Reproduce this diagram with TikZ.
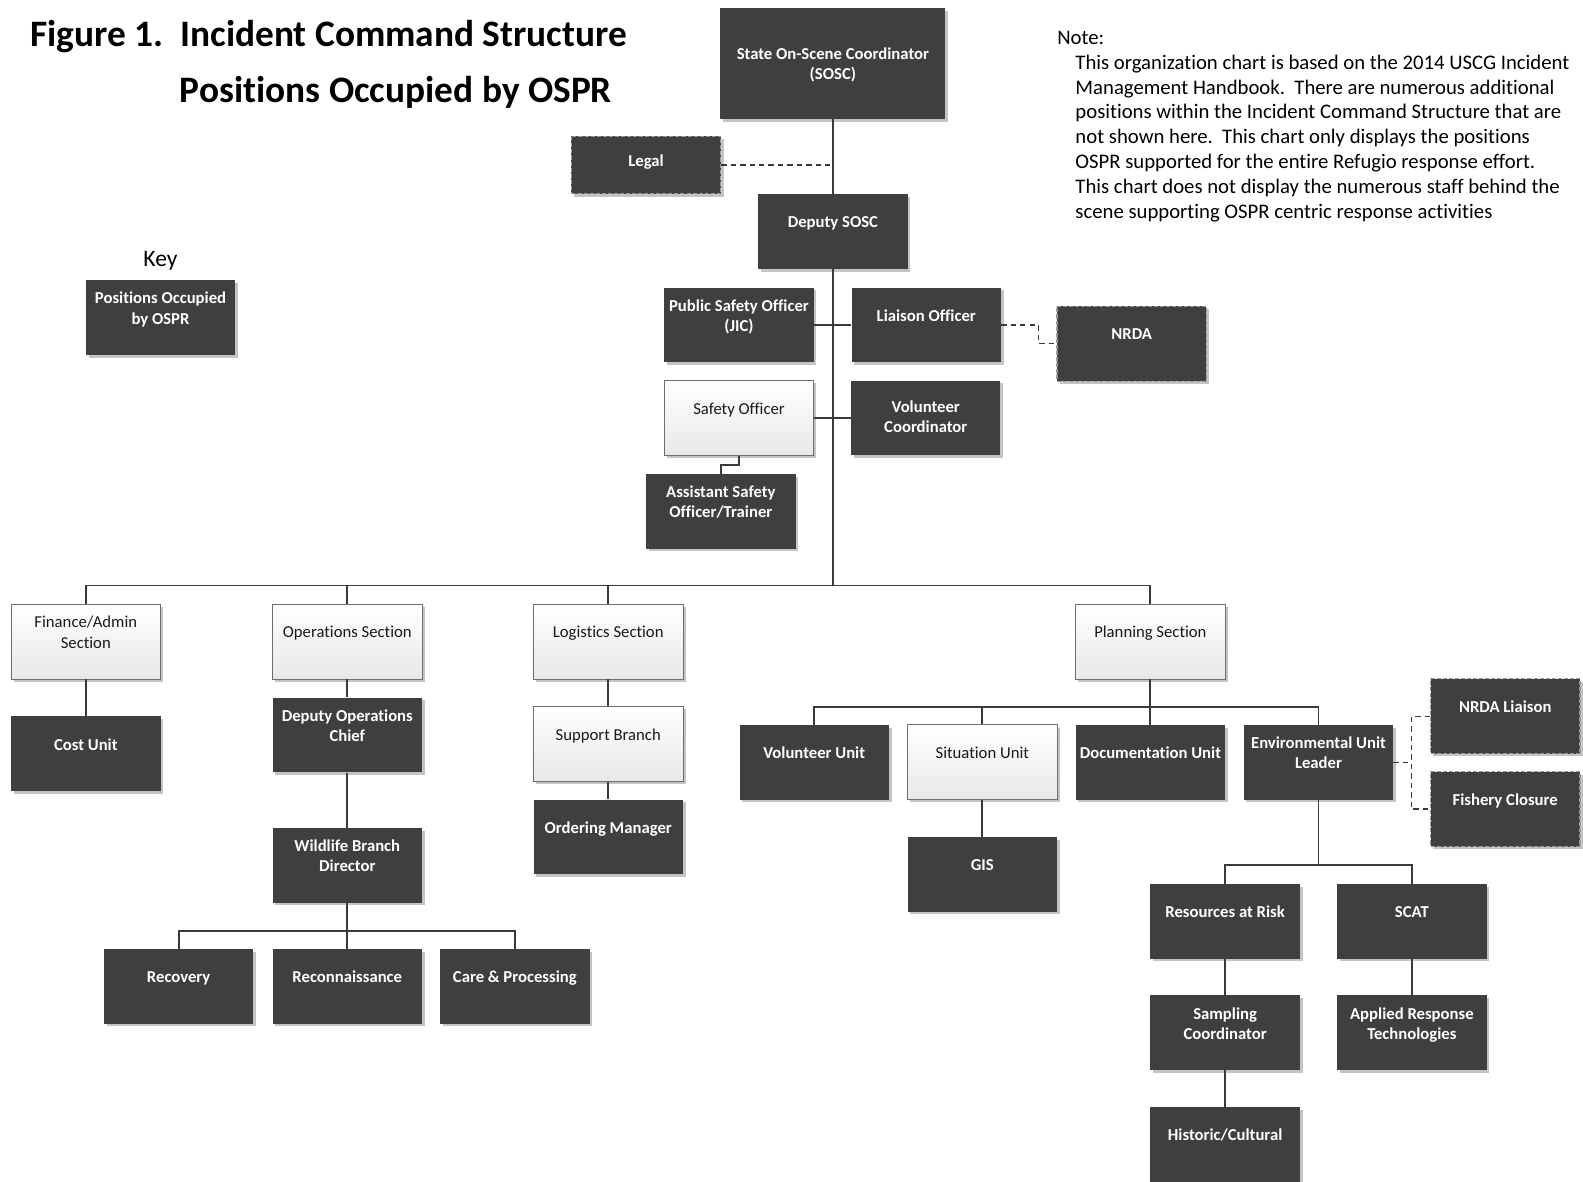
\documentclass[tikz,border=0pt]{standalone}
\usepackage{fontspec}
\setmainfont{Carlito}[Ligatures=NoCommon]
\usepackage{xcolor}
\usepackage{tikz}
\usetikzlibrary{shadows, calc}

\definecolor{ospr}{HTML}{3F3F3F}
\definecolor{wire}{HTML}{3A3A3A}
\definecolor{rim}{HTML}{6E6E6E}
\definecolor{shade}{HTML}{C4C4C4}

\begin{document}
\begin{tikzpicture}[x=0.75pt, y=-0.75pt,
  every node/.style={align=center, inner sep=2pt},
  held/.style={fill=ospr, text=white, font=\bfseries\fontsize{12.4}{15}\selectfont,
    minimum width=111pt, minimum height=55.5pt, text depth=14pt,
    drop shadow={shadow xshift=2pt, shadow yshift=-2pt, fill=shade, opacity=1}},
  open/.style={held, top color=white, bottom color=black!9, draw=rim, line width=0.6pt,
    text=black!90, font=\fontsize{12.4}{15}\selectfont},
  side/.style={held, draw=black!40, dash pattern=on 3pt off 1.5pt, line width=0.8pt},
  title/.style={font=\bfseries\fontsize{27.75}{32}\selectfont, inner sep=0pt, anchor=west},
  notetxt/.style={font=\fontsize{15.4}{18.5}\selectfont, inner sep=0pt, align=left},
  wire/.style={draw=wire, line width=1.4pt},
  dashwire/.style={draw=wire, line width=1pt, dash pattern=on 4pt off 3pt},
  ]
\useasboundingbox (0,0) rectangle (1568,1170);

% heading, key and note
\node[title] (fig) at (30,36.5) {Figure 1.\ \ Incident Command Structure};
\node[title] (figsub) at (178,91.5) {Positions Occupied by OSPR};
\node[font=\fontsize{17.5}{20}\selectfont] (keyhead) at (159,258) {Key};
\node[held] (key) at (159,314.5) {Positions Occupied\\by OSPR};
\node[notetxt, anchor=base west] (note) at (1047,44) {Note:};
\node[notetxt, anchor=north west] (notebody) at (1065,54) {This organization chart is based on the 2014 USCG Incident\\
  Management Handbook.\ \ There are numerous additional\\
  positions within the Incident Command Structure that are\\
  not shown here.\ \ This chart only displays the positions\\
  OSPR supported for the entire Refugio response effort.\\
  This chart does not display the numerous staff behind the\\
  scene supporting OSPR centric response activities};

% command staff
\node[held, minimum width=167.25pt, minimum height=82.5pt, text depth=0pt] (sosc) at (825,63) {State On-Scene Coordinator\\(SOSC)};
\node[side, minimum height=42.75pt, text depth=7pt] (legal) at (640,163.5) {Legal};
\node[held] (dsosc) at (825,229.5) {Deputy SOSC};
\node[held] (pso) at (732,322) {Public Safety Officer\\(JIC)};
\node[held] (lo) at (917.5,322) {Liaison Officer};
\node[side] (nrda) at (1121,340.5) {NRDA};
\node[open] (so) at (732,414) {Safety Officer};
\node[held, text depth=2pt] (vc) at (917,414) {Volunteer\\Coordinator};
\node[held] (aso) at (714,506.5) {Assistant Safety\\Officer/Trainer};

% sections
\node[open] (fin) at (85,635.5) {Finance/Admin\\Section};
\node[open] (ops) at (344,635.5) {Operations Section};
\node[open] (log) at (602.5,635.5) {Logistics Section};
\node[open] (plan) at (1139.5,635.5) {Planning Section};

\node[held] (cost) at (85,746.5) {Cost Unit};
\node[held] (dops) at (344,728) {Deputy Operations\\Chief};
\node[held] (wbd) at (344,857) {Wildlife Branch\\Director};
\node[held] (rec) at (177,977) {Recovery};
\node[held] (recon) at (344,977) {Reconnaissance};
\node[held] (care) at (510,977) {Care \& Processing};
\node[open] (sup) at (602.5,737) {Support Branch};
\node[held] (ord) at (602.5,829) {Ordering Manager};

\node[held] (vu) at (806.5,755) {Volunteer Unit};
\node[open] (su) at (973,755) {Situation Unit};
\node[held] (doc) at (1139.5,755) {Documentation Unit};
\node[held] (env) at (1306,755) {Environmental Unit\\Leader};
\node[held] (gis) at (973,866) {GIS};
\node[side] (nliai) at (1491,709.5) {NRDA Liaison};
\node[side] (fish) at (1491,801.5) {Fishery Closure};
\node[held] (rar) at (1213.5,912.5) {Resources at Risk};
\node[held] (scat) at (1398.5,912.5) {SCAT};
\node[held] (samp) at (1213.5,1023) {Sampling\\Coordinator};
\node[held] (art) at (1398.5,1023) {Applied Response\\Technologies};
\node[held] (hist) at (1213.5,1133.5) {Historic/Cultural};

% connectors
\coordinate (cmd) at (825,580);
\coordinate (opsbus) at (344,922);
\coordinate (plnbus) at (1139.5,700);
\coordinate (envbus) at (1306,857);

\draw[wire] (sosc) -- (dsosc);
\draw[wire] (dsosc) -- (cmd);
\draw[wire] (pso) -- (lo);
\draw[wire] (so) -- (vc);
\draw[wire] (so.south) -- ++(0,9) -| (aso);
\draw[dashwire] (legal) -- (legal -| dsosc);
\draw[dashwire] (lo.east) -- ++(37,0) |- (nrda);

\draw[wire] (fin.north) |- (cmd) -| (plan.north);
\draw[wire] (ops) -- (ops |- cmd);
\draw[wire] (log) -- (log |- cmd);
\draw[wire] (fin) -- (cost);

\draw[wire] (ops) -- (dops);
\draw[wire] (dops) -- (wbd);
\draw[wire] (wbd) -- (recon);
\draw[wire] (rec.north) |- (opsbus) -| (care.north);
\draw[wire] (log) -- (sup);
\draw[wire] (sup) -- (ord);

\draw[wire] (plan) -- (doc);
\draw[wire] (vu.north) |- (plnbus) -| (env.north);
\draw[wire] (su) -- (su |- plnbus);
\draw[wire] (su) -- (gis);
\draw[wire] (env) -- (envbus);
\draw[wire] (rar.north) |- (envbus) -| (scat.north);
\draw[wire] (rar) -- (samp);
\draw[wire] (samp) -- (hist);
\draw[wire] (scat) -- (art);
\draw[dashwire] (env.east) -- ++(18,0) coordinate (envside);
\draw[dashwire] (nliai.west) -| (envside) |- (fish.west);
\end{tikzpicture}
\end{document}
